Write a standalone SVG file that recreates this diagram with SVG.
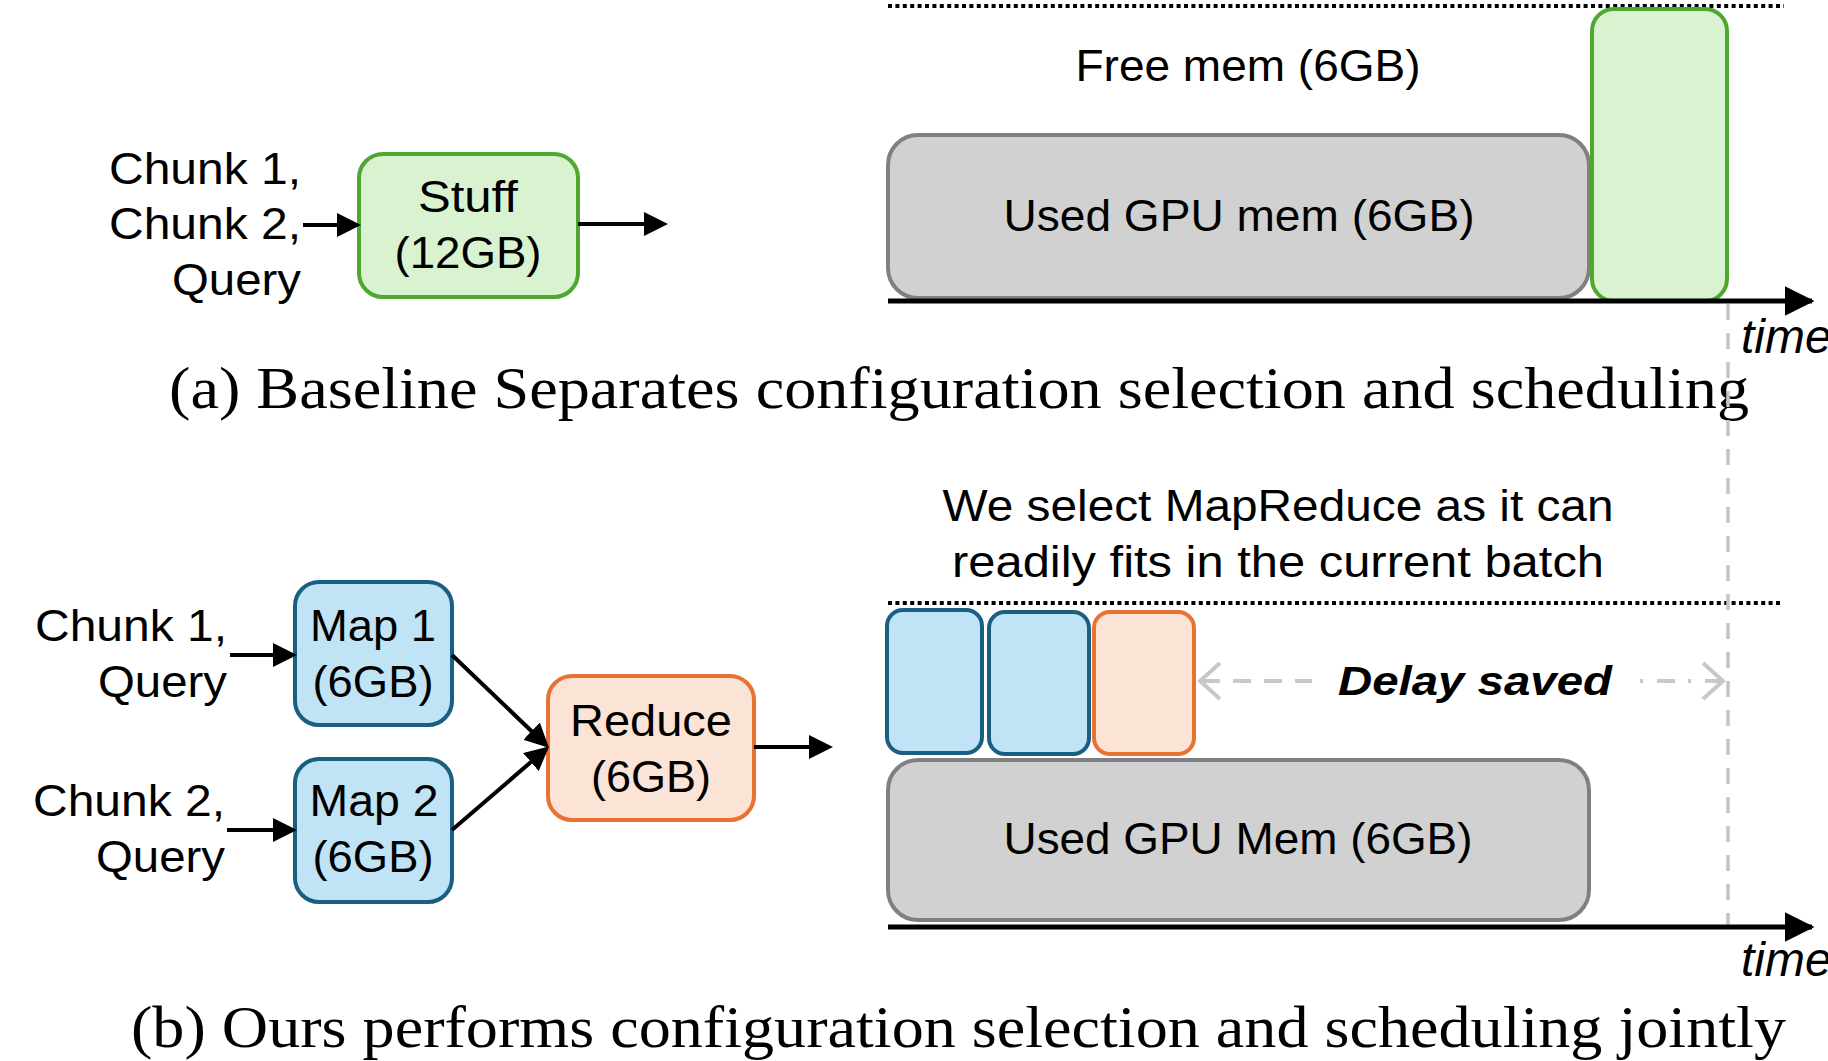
<svg xmlns="http://www.w3.org/2000/svg" width="1828" height="1061" viewBox="0 0 1828 1061">
<style>
.lbl{font-family:"Liberation Sans",Arial,sans-serif;font-size:45px;fill:#000}
.cap{font-family:"Liberation Serif","Times New Roman",serif;font-size:60px;fill:#000}
.time{font-family:"Liberation Sans",Arial,sans-serif;font-size:48px;font-style:italic;fill:#000}
.green{fill:#d9f2d0;stroke:#4ea72e;stroke-width:4}
.blue{fill:#c0e4f5;stroke:#1a5e82;stroke-width:4}
.orange{fill:#fbe3d6;stroke:#e97132;stroke-width:4}
.gray{fill:#d1d1d1;stroke:#808080;stroke-width:4}
.arr{stroke:#000;stroke-width:4;fill:none}
.axis{stroke:#000;stroke-width:5;fill:none}
.dot{stroke:#000;stroke-width:4;stroke-dasharray:4 3.4;fill:none}
</style>
<defs>
<marker id="ah" markerWidth="6" markerHeight="6" refX="5" refY="3" orient="auto" markerUnits="strokeWidth" viewBox="0 0 6 6"><path d="M0,0 L6,3 L0,6 Z" fill="#000"/></marker>
<marker id="axh" markerWidth="6" markerHeight="6" refX="5.5" refY="3" orient="auto" markerUnits="strokeWidth" viewBox="0 0 6 6"><path d="M0,0 L6,3 L0,6 Z" fill="#000"/></marker>
</defs>

<!-- (a) -->
<g id="a-inputs">
<text class="lbl" x="301" y="184" text-anchor="end" textLength="192" lengthAdjust="spacingAndGlyphs">Chunk 1,</text>
<text class="lbl" x="301" y="239" text-anchor="end" textLength="192" lengthAdjust="spacingAndGlyphs">Chunk 2,</text>
<text class="lbl" x="301" y="295" text-anchor="end" textLength="129" lengthAdjust="spacingAndGlyphs">Query</text>
</g>
<g id="stuff">
<rect class="green" x="359" y="154" width="219" height="143" rx="24"/>
<text class="lbl" x="468" y="212" text-anchor="middle" textLength="100" lengthAdjust="spacingAndGlyphs">Stuff</text>
<text class="lbl" x="468" y="268" text-anchor="middle" textLength="147" lengthAdjust="spacingAndGlyphs">(12GB)</text>
</g>
<line class="dot" x1="888" y1="6" x2="1784" y2="6"/>
<text class="lbl" x="1248" y="81" text-anchor="middle" textLength="345" lengthAdjust="spacingAndGlyphs">Free mem (6GB)</text>
<g id="used-a">
<rect class="gray" x="888" y="135" width="701" height="163" rx="30"/>
<text class="lbl" x="1239" y="231" text-anchor="middle" textLength="471" lengthAdjust="spacingAndGlyphs">Used GPU mem (6GB)</text>
</g>
<g id="stuff-slot">
<rect class="green" x="1592" y="9" width="135" height="292" rx="22"/>
</g>
<text class="time" x="1741" y="353">time</text>
<text class="cap" x="169" y="408" textLength="1580" lengthAdjust="spacingAndGlyphs">(a) Baseline Separates configuration selection and scheduling</text>

<!-- (b) -->
<text class="lbl" x="1278" y="521" text-anchor="middle" textLength="671" lengthAdjust="spacingAndGlyphs">We select MapReduce as it can</text>
<text class="lbl" x="1278" y="577" text-anchor="middle" textLength="652" lengthAdjust="spacingAndGlyphs">readily fits in the current batch</text>
<line class="dot" x1="888" y1="603" x2="1781" y2="603"/>

<g id="b-inputs">
<text class="lbl" x="227" y="641" text-anchor="end" textLength="192" lengthAdjust="spacingAndGlyphs">Chunk 1,</text>
<text class="lbl" x="227" y="697" text-anchor="end" textLength="129" lengthAdjust="spacingAndGlyphs">Query</text>
<text class="lbl" x="225" y="816" text-anchor="end" textLength="192" lengthAdjust="spacingAndGlyphs">Chunk 2,</text>
<text class="lbl" x="225" y="872" text-anchor="end" textLength="129" lengthAdjust="spacingAndGlyphs">Query</text>
</g>
<g id="map1">
<rect class="blue" x="295" y="582" width="157" height="143" rx="24"/>
<text class="lbl" x="373" y="641" text-anchor="middle" textLength="126" lengthAdjust="spacingAndGlyphs">Map 1</text>
<text class="lbl" x="373" y="697" text-anchor="middle" textLength="121" lengthAdjust="spacingAndGlyphs">(6GB)</text>
</g>
<g id="map2">
<rect class="blue" x="295" y="759" width="157" height="143" rx="24"/>
<text class="lbl" x="374" y="816" text-anchor="middle" textLength="129" lengthAdjust="spacingAndGlyphs">Map 2</text>
<text class="lbl" x="373" y="872" text-anchor="middle" textLength="121" lengthAdjust="spacingAndGlyphs">(6GB)</text>
</g>
<g id="reduce">
<rect class="orange" x="548" y="676" width="206" height="144" rx="24"/>
<text class="lbl" x="651" y="736" text-anchor="middle" textLength="162" lengthAdjust="spacingAndGlyphs">Reduce</text>
<text class="lbl" x="651" y="792" text-anchor="middle" textLength="120" lengthAdjust="spacingAndGlyphs">(6GB)</text>
</g>

<g id="sched-b">
<rect class="blue" x="887" y="610" width="95" height="143" rx="16"/>
<rect class="blue" x="989" y="612" width="100" height="142" rx="16"/>
<rect class="orange" x="1094" y="612" width="100" height="142" rx="16"/>
</g>
<g id="used-b">
<rect class="gray" x="888" y="760" width="701" height="160" rx="30"/>
<text class="lbl" x="1238" y="854" text-anchor="middle" textLength="469" lengthAdjust="spacingAndGlyphs">Used GPU Mem (6GB)</text>
</g>
<text class="time" x="1741" y="976">time</text>
<text class="cap" x="131" y="1047" textLength="1655" lengthAdjust="spacingAndGlyphs">(b) Ours performs configuration selection and scheduling jointly</text>

<g id="connectors">
<line class="arr" x1="303" y1="225" x2="357" y2="225" marker-end="url(#ah)"/>
<line class="arr" x1="578" y1="224" x2="664" y2="224" marker-end="url(#ah)"/>
<line class="axis" x1="888" y1="301" x2="1812" y2="301" marker-end="url(#axh)"/>
<line x1="1728" y1="304" x2="1728" y2="927" stroke="#c4c4c4" stroke-width="3.5" stroke-dasharray="16 13"/>
<line class="arr" x1="230" y1="655" x2="293" y2="655" marker-end="url(#ah)"/>
<line class="arr" x1="227" y1="830" x2="293" y2="830" marker-end="url(#ah)"/>
<line class="arr" x1="452" y1="655" x2="546" y2="745" marker-end="url(#ah)"/>
<line class="arr" x1="452" y1="830" x2="546" y2="749" marker-end="url(#ah)"/>
<line class="arr" x1="754" y1="747" x2="829" y2="747" marker-end="url(#ah)"/>
<line class="axis" x1="888" y1="927" x2="1812" y2="927" marker-end="url(#axh)"/>
<g stroke="#c8c8c8" stroke-width="4" fill="none">
<line x1="1202" y1="681" x2="1312" y2="681" stroke-dasharray="18 13"/>
<line x1="1640" y1="681" x2="1720" y2="681" stroke-dasharray="3 14 18 13"/>
<polyline points="1220,663 1200,681 1220,699"/>
<polyline points="1703,663 1723,681 1703,699"/>
</g>
<text x="1475" y="695" text-anchor="middle" font-family="'Liberation Sans',Arial,sans-serif" font-size="40" font-weight="bold" font-style="italic" textLength="274" lengthAdjust="spacingAndGlyphs">Delay saved</text>
</g>
</svg>
